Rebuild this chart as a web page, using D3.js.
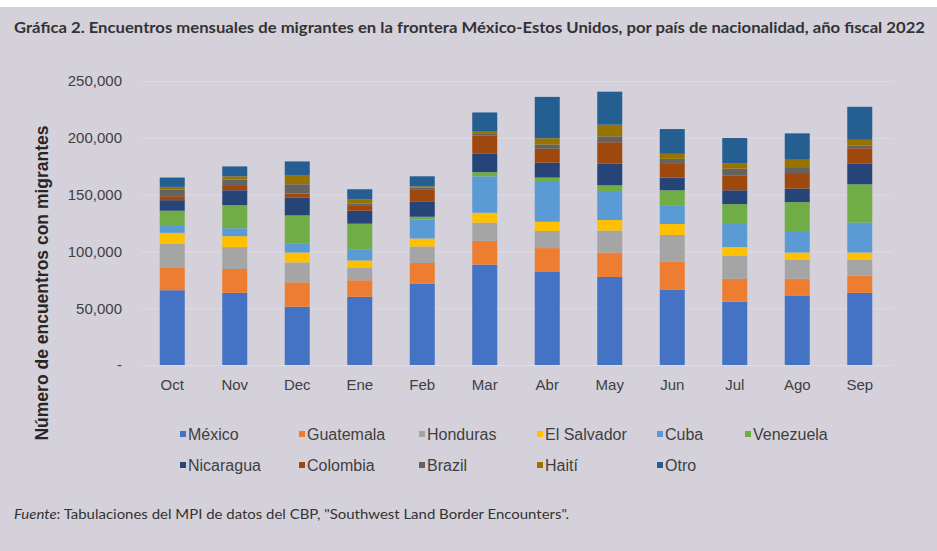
<!DOCTYPE html>
<html>
<head>
<meta charset="utf-8">
<script src="https://cdn.jsdelivr.net/npm/d3@7"></script>
<style>
  body { margin: 0; background: #fff; }
  svg { display: block; }
</style>
</head>
<body>
<svg id="chart" width="937" height="551"></svg>
<script>
// meses del año fiscal 2022
var months = ["Oct", "Nov", "Dec", "Ene", "Feb", "Mar", "Abr", "May", "Jun", "Jul", "Ago", "Sep"];

var mexico     = [65800, 63500, 51300, 60000, 71700, 88300, 82400, 77500, 66400, 55700, 61200, 63500];
var guatemala  = [19600, 21000, 21500, 14600, 18100, 21000, 20500, 21500, 24800, 20100, 14800, 15200];
var honduras   = [21500, 19300, 17500, 11300, 14500, 16000, 15100, 19300, 23300, 20400, 16700, 14000];
var elSalvador = [9400, 9600, 8700, 6100, 7000, 8700, 8100, 9300, 9600, 7600, 6300, 6300];
var cuba       = [6100, 7000, 8200, 9400, 16900, 32100, 35000, 25600, 16600, 20300, 19000, 26300];
var venezuela  = [13400, 20300, 24500, 23000, 2300, 3700, 3900, 5000, 13100, 17500, 25400, 33800];
var nicaragua  = [9300, 13100, 15800, 11400, 13100, 16100, 13100, 19000, 11200, 12200, 11900, 18100];
var colombia   = [3500, 3800, 3500, 4900, 11100, 16000, 12200, 18900, 12700, 13200, 13700, 13600];
var brazil     = [5900, 5600, 8100, 1500, 1500, 1500, 3800, 5200, 3800, 5800, 5200, 2400];
var haiti      = [2300, 2900, 7600, 3800, 1100, 2000, 5500, 10200, 4400, 4900, 6500, 5000];
var otro       = [8200, 8700, 12500, 8700, 8800, 16900, 36400, 29100, 21800, 22100, 23200, 29100];

var seriesNames = ["México", "Guatemala", "Honduras", "El Salvador", "Cuba", "Venezuela",
                   "Nicaragua", "Colombia", "Brazil", "Haití", "Otro"];
var seriesValues = [mexico, guatemala, honduras, elSalvador, cuba, venezuela,
                    nicaragua, colombia, brazil, haiti, otro];
var yTicks = [0, 50000, 100000, 150000, 200000, 250000];

var colors = ["#4472c4", "#ed7d31", "#a5a5a5", "#ffc000", "#5b9bd5", "#70ad47",
              "#264478", "#9e480e", "#636363", "#997300", "#255e91"];

var svg = d3.select("#chart");
var bg = "#d4d1db";

svg.append("rect")
    .attr("x", 0).attr("y", 7)
    .attr("width", 937).attr("height", 544)
    .attr("fill", bg);

// titulo
svg.append("text")
    .attr("x", 14).attr("y", 33)
    .attr("font-family", "Lato")
    .attr("font-weight", "bold")
    .attr("font-size", 14.5)
    .attr("fill", "#333")
    .attr("textLength", 911)
    .attr("lengthAdjust", "spacingAndGlyphs")
    .text("Gráfica 2. Encuentros mensuales de migrantes en la frontera México-Estos Unidos, por país de nacionalidad, año fiscal 2022");

// tabla por mes
var table = months.map(function(m, i) {
  var row = { month: m };
  seriesNames.forEach(function(s, j) { row[s] = seriesValues[j][i]; });
  return row;
});

var x = d3.scaleBand()
    .domain(months)
    .range([141, 891])
    .paddingInner(0.6)
    .paddingOuter(0.3);

var y = d3.scaleLinear()
    .domain([0, 250000])
    .range([365, 81]);

// lineas de cuadricula
svg.append("g")
  .selectAll("line")
    .data(yTicks)
  .enter().append("line")
    .attr("x1", 141).attr("x2", 893)
    .attr("y1", function(d) { return y(d) + 0.5; })
    .attr("y2", function(d) { return y(d) + 0.5; })
    .attr("stroke", "#dedbe4")
    .attr("stroke-width", 1);

var stack = d3.stack().keys(seriesNames);
var layers = stack(table);

svg.append("g")
  .selectAll("g")
    .data(layers)
  .enter().append("g")
    .attr("fill", function(d, i) { return colors[i]; })
  .selectAll("rect")
    .data(function(d) { return d; })
  .enter().append("rect")
    .attr("x", function(d) { return x(d.data.month); })
    .attr("y", function(d) { return y(d[1]); })
    .attr("height", function(d) { return y(d[0]) - y(d[1]); })
    .attr("width", x.bandwidth());

var yAxis = d3.axisLeft(y)
    .tickValues(yTicks)
    .tickSize(0)
    .tickPadding(19)
    .tickFormat(function(d) { return d === 0 ? "-" : d3.format(",")(d); });

var gy = svg.append("g")
    .attr("transform", "translate(141,0)")
    .call(yAxis);
gy.select(".domain").remove();
gy.selectAll("text")
    .attr("font-family", "Liberation Sans, Arial, sans-serif")
    .attr("font-size", 15)
    .attr("fill", "#404040");

var xAxis = d3.axisBottom(x).tickSize(0).tickPadding(14);
var gx = svg.append("g")
    .attr("transform", "translate(0,365)")
    .call(xAxis);
gx.select(".domain").remove();
gx.selectAll("text")
    .attr("font-family", "Liberation Sans, Arial, sans-serif")
    .attr("font-size", 15)
    .attr("fill", "#404040");

// titulo eje y
svg.append("text")
    .attr("transform", "translate(48,283) rotate(-90)")
    .attr("text-anchor", "middle")
    .attr("font-family", "Liberation Sans, Arial, sans-serif")
    .attr("font-weight", "bold")
    .attr("font-size", 17.5)
    .attr("fill", "#262626")
    .text("Número de encuentros con migrantes");

// leyenda
var legendCols = [180, 299, 419, 537, 657, 745];
var legend = svg.append("g")
  .selectAll("g")
    .data(seriesNames)
  .enter().append("g")
    .attr("transform", function(d, i) {
      return "translate(" + legendCols[i % 6] + "," + (i < 6 ? 434 : 465) + ")";
    });

legend.append("rect")
    .attr("x", 0).attr("y", -3)
    .attr("width", 6).attr("height", 6)
    .attr("fill", function(d, i) { return colors[i]; });

legend.append("text")
    .attr("x", 8).attr("dy", "0.35em")
    .attr("font-family", "Liberation Sans, Arial, sans-serif")
    .attr("font-size", 16)
    .attr("fill", "#404040")
    .text(function(d) { return d; });

// fuente
var src = svg.append("text")
    .attr("x", 14).attr("y", 519)
    .attr("font-family", "Lato")
    .attr("font-size", 12.5)
    .attr("fill", "#333")
    .attr("textLength", 555)
    .attr("lengthAdjust", "spacingAndGlyphs");
src.append("tspan").attr("font-style", "italic").text("Fuente");
src.append("tspan").text(": Tabulaciones del MPI de datos del CBP, \"Southwest Land Border Encounters\".");
</script>
</body>
</html>
